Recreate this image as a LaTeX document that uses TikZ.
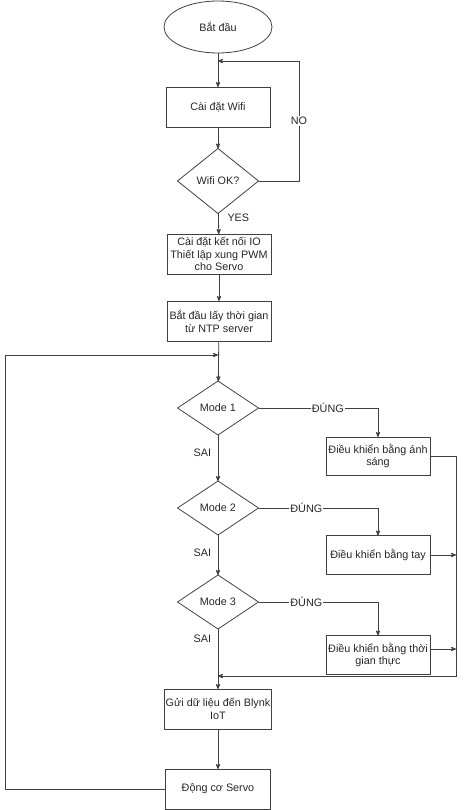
\documentclass[tikz,border=0pt]{standalone}
\usepackage{fontspec}
\setmainfont{Liberation Sans}
\usetikzlibrary{positioning}
\usetikzlibrary{shapes,arrows,shapes.geometric,calc}
\definecolor{linegray}{RGB}{64,64,64}
\tikzset{
    %Define standard arrow tip
    >=stealth',
    % Define arrow style
    pil/.style={
           ->,
           draw=linegray,
           line width=0.8pt,},
    % boxes of the flow chart
    stepbox/.style={
           draw=linegray,
           line width=0.8pt,
           rectangle,
           minimum width=104pt,
           minimum height=40pt,
           inner sep=1pt,
           align=center,
           text=black!85,
           font=\fontsize{10.8}{12.8}\selectfont},
    cond/.style={
           draw=linegray,
           line width=0.8pt,
           diamond,
           minimum width=81pt,
           minimum height=54pt,
           inner sep=0pt,
           text=black!85,
           font=\fontsize{10.8}{12.8}\selectfont},
    lbl/.style={
           text=black!85,
           inner sep=1pt,
           font=\fontsize{10.8}{12.8}\selectfont}
}

\begin{document}
\begin{tikzpicture}[x=1pt, y=-1pt, outer sep = 0pt]

\useasboundingbox (0,0) rectangle (466,810);

%%%%%%%%%%%%%%%%%%%%%%%%%%%%%%%%%

% start and wifi setup
\node [draw=linegray, line width=0.8pt, ellipse, minimum width=108pt, minimum height=52pt,
       text=black!85, font=\fontsize{10.8}{12.8}\selectfont] (start) at (218,27) {Bắt đầu};
\node [stepbox] (wifi)   at (218,107) {Cài đặt Wifi};
\node [cond, minimum height=65pt] (wifiok) at (218,181) {Wifi OK?};

% setup blocks
\node [stepbox] (io)  at (219,254) {Cài đặt kết nối IO\\Thiết lập xung PWM\\cho Servo};
\node [stepbox] (ntp) at (219,321) {Bắt đầu lấy thời gian\\từ NTP server};

% mode decisions
\node [cond] (mode1) at (218,408) {Mode 1};
\node [cond] (mode2) at (218,508) {Mode 2};
\node [cond] (mode3) at (218,602) {Mode 3};

% control blocks
\node [stepbox, minimum height=38pt] (light) at (378,456) {Điều khiển bằng ánh\\sáng};
\node [stepbox, minimum height=39pt] (hand)  at (378,555) {Điều khiển bằng tay};
\node [stepbox, minimum height=39pt] (rtc)   at (378,655) {Điều khiển bằng thời\\gian thực};

% output blocks
\node [stepbox, minimum width=105pt] (blynk) at (218,709) {Gửi dữ liệu đến Blynk\\IoT};
\node [stepbox, minimum width=105pt] (servo) at (218,789) {Động cơ Servo};

% joins and corners
\coordinate (jtop)   at (218,61);
\coordinate (noturn) at (299,61);
\coordinate (jloop)  at (218,355);
\coordinate (cornL)  at (5,355);
\coordinate (jright) at (456,676);
\coordinate (jbot)   at (218,676);

% connectors
\draw [pil] (start) -- (wifi);
\draw [pil] (wifi) -- (wifiok);
\draw [pil] (wifiok.east) -- (wifiok.east -| noturn)
      -- node [lbl, fill=white] {NO} (noturn) -- (jtop);
\draw [pil] (wifiok) -- node [lbl, pos=0.2, right=8pt] {YES} (io);
\draw [pil] (io) -- (ntp);
\draw [pil] (ntp) -- (mode1);

\draw [pil] (mode1.east) -| node [lbl, pos=0.29, fill=white] {ĐÚNG} (light.north);
\draw [pil] (mode2.east) -| node [lbl, pos=0.2, fill=white] {ĐÚNG} (hand.north);
\draw [pil] (mode3.east) -| node [lbl, pos=0.2, fill=white] {ĐÚNG} (rtc.north);

\draw [pil] (mode1) -- node [lbl, pos=0.38, left=6pt] {SAI} (mode2);
\draw [pil] (mode2) -- node [lbl, pos=0.45, left=6pt] {SAI} (mode3);
\draw [pil] (mode3) -- node [lbl, pos=0.17, left=6pt] {SAI} (blynk);

\draw [pil] (light.east) -| (jright) -- (jbot);
\draw [pil] (hand.east) -- (hand.east -| jright);
\draw [pil] ([yshift=6pt]rtc.east) -- ([yshift=6pt]rtc.east -| jright);

\draw [pil] (blynk) -- (servo);
\draw [pil] (servo.west) -| (cornL) -- (jloop);

\end{tikzpicture}
\end{document}
